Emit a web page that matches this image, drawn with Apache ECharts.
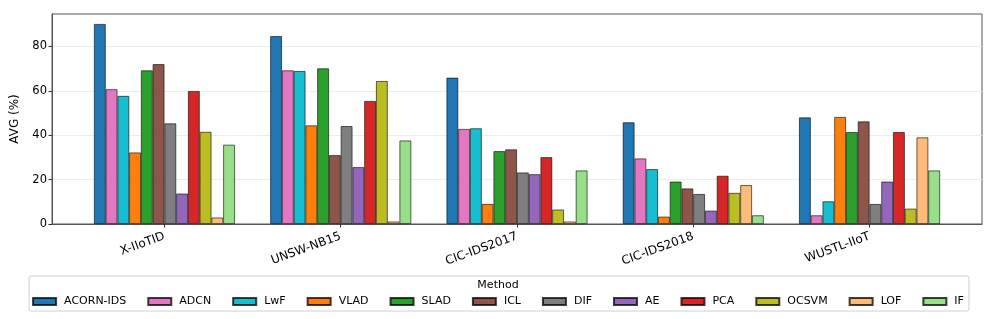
<!DOCTYPE html>
<html>
<head>
<meta charset="utf-8">
<script src="https://cdn.jsdelivr.net/npm/echarts@6/dist/echarts.min.js"></script>
<style>html,body{margin:0;padding:0;background:#fff}#c{width:996px;height:319px}</style>
</head>
<body>
<div id="c"></div>
<script>
const categories = ['X-IIoTID', 'UNSW-NB15', 'CIC-IDS2017', 'CIC-IDS2018', 'WUSTL-IIoT'];
const methods = ['ACORN-IDS', 'ADCN', 'LwF', 'VLAD', 'SLAD', 'ICL', 'DIF', 'AE', 'PCA', 'OCSVM', 'LOF', 'IF'];
const colors = ['#1f77b4', '#e377c2', '#17becf', '#ff7f0e', '#2ca02c', '#8c564b', '#7f7f7f', '#9467bd', '#d62728', '#bcbd22', '#ffbb78', '#98df8a'];
// values per method, in category order
const ACORN_IDS = [90.1, 84.6, 65.9, 45.8, 48.0];
const ADCN      = [60.7, 69.2, 42.8, 29.5, 3.9];
const LwF       = [57.7, 68.9, 43.1, 24.7, 10.2];
const VLAD      = [32.2, 44.4, 9.0, 3.3, 48.2];
const SLAD      = [69.2, 70.1, 32.8, 19.1, 41.4];
const ICL       = [72.0, 31.0, 33.6, 16.0, 46.2];
const DIF       = [45.3, 44.1, 23.2, 13.5, 9.0];
const AE        = [13.7, 25.6, 22.4, 6.0, 19.1];
const PCA       = [59.9, 55.4, 30.1, 21.7, 41.4];
const OCSVM     = [41.5, 64.4, 6.5, 14.0, 6.9];
const LOF       = [2.9, 1.1, 1.1, 17.5, 39.0];
const IF        = [35.7, 37.6, 24.1, 3.9, 24.1];
const yTicks = [0, 20, 40, 60, 80];

const seriesValues = [ACORN_IDS, ADCN, LwF, VLAD, SLAD, ICL, DIF, AE, PCA, OCSVM, LOF, IF];
const catIdx = categories.map((_, i) => i);

const chart = echarts.init(document.getElementById('c'), null, {renderer: 'canvas'});
const FONT = 'DejaVu Sans';
chart.setOption({
  animation: false,
  textStyle: {fontFamily: FONT},
  title: {
    text: 'Method', left: 'center', top: 280, padding: 0,
    textStyle: {fontFamily: FONT, fontSize: 11, fontWeight: 'normal', color: '#000'}
  },
  legend: {
    data: methods,
    left: 'center', top: 276,
    padding: [20, 5, 4, 3],
    itemWidth: 23, itemHeight: 7, itemGap: 21,
    icon: 'rect',
    borderColor: '#d0d0d0', borderWidth: 1, borderRadius: 2,
    textStyle: {fontFamily: FONT, fontSize: 11, color: '#000', padding: [0, 0, 0, 3]}
  },
  grid: {left: 52, right: 14, top: 14, bottom: 95, show: true, borderColor: '#555', borderWidth: 1, containLabel: false},
  xAxis: {
    type: 'value', min: -0.638, max: 4.638,
    splitLine: {show: false},
    axisLine: {show: true, onZero: false, lineStyle: {color: '#555'}},
    axisTick: {show: true, length: 3.5, lineStyle: {color: '#333'}, customValues: catIdx},
    axisLabel: {
      customValues: catIdx, rotate: 20, margin: 12,
      fontFamily: FONT, fontSize: 12, color: '#000',
      formatter: v => categories[Math.round(v)] || ''
    }
  },
  yAxis: {
    type: 'value', min: 0, max: 94.6, interval: 20,
    name: 'AVG (%)', nameLocation: 'middle', nameGap: 31,
    nameTextStyle: {fontFamily: FONT, fontSize: 12, color: '#000'},
    axisLine: {show: true, onZero: false, lineStyle: {color: '#555'}},
    axisTick: {show: true, length: 3.5, lineStyle: {color: '#333'}, customValues: yTicks},
    axisLabel: {customValues: yTicks, fontFamily: FONT, fontSize: 11.5, color: '#000', margin: 5},
    splitLine: {show: true, lineStyle: {color: '#ececec', width: 1}}
  },
  series: methods.map((m, i) => ({
    name: m,
    type: 'bar',
    barGap: '0%',
    barCategoryGap: '20%',
    itemStyle: {color: colors[i], borderColor: 'rgba(0,0,0,0.75)', borderWidth: 0.8},
    data: seriesValues[i].map((v, k) => [catIdx[k], v])
  }))
});
</script>
</body>
</html>
